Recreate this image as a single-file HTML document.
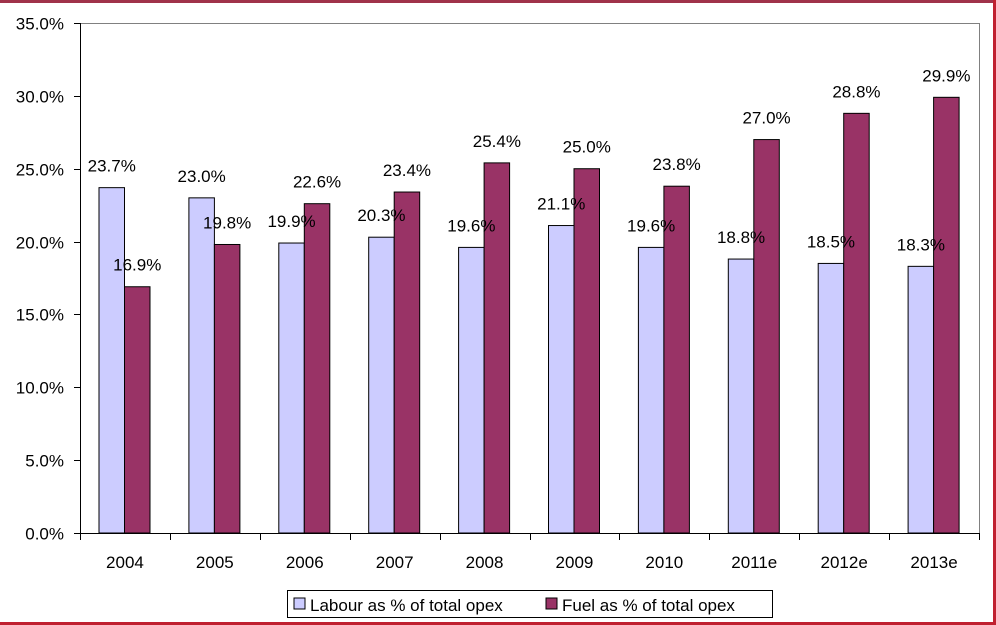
<!DOCTYPE html>
<html><head><meta charset="utf-8"><style>
body{margin:0;background:#fff;}
svg{display:block;font-family:"Liberation Sans",Arial,sans-serif;}
</style></head><body>
<svg id="c" width="996" height="625">
<rect x="0" y="0" width="996" height="3" fill="#a0324a"/>
<rect x="993" y="0" width="3" height="625" fill="#c02030"/>
<rect x="0" y="622" width="996" height="3" fill="#c02030"/>
<g id="g"></g>
<g>
<rect x="287.5" y="590.5" width="485" height="27" fill="#fff" stroke="#000"/>
<rect x="294" y="598" width="11" height="11" fill="#ccccff" stroke="#000"/>
<text x="310" y="611" font-size="17">Labour as % of total opex</text>
<rect x="546" y="598" width="11" height="11" fill="#993366" stroke="#000"/>
<text x="562" y="611" font-size="17">Fuel as % of total opex</text>
</g>
</svg>
<script>
const categories=["2004","2005","2006","2007","2008","2009","2010","2011e","2012e","2013e"];
const labour=[23.7,23.0,19.9,20.3,19.6,21.1,19.6,18.8,18.5,18.3];
const fuel=[16.9,19.8,22.6,23.4,25.4,25.0,23.8,27.0,28.8,29.9];
const ticks=[0,5,10,15,20,25,30,35];
const NS="http://www.w3.org/2000/svg";
const g=document.getElementById('g');
const L=80,R=979,T=23,B=533,ymax=35;
const y=v=>B-(v/ymax)*(B-T);
const cw=(R-L)/categories.length;
const x=i=>L+i*cw;
function el(t,a){const e=document.createElementNS(NS,t);for(const k in a)e.setAttribute(k,a[k]);g.appendChild(e);return e;}
let e=el('line',{x1:L,y1:T+0.5,x2:R,y2:T+0.5,stroke:'#808080'});


e=el('line',{x1:R+0.5,y1:T,x2:R+0.5,y2:B,stroke:'#808080'});


ticks.forEach(t=>{
 const yy=Math.round(y(t))+0.5;
 let l=el('line',{x1:L-6,y1:yy,x2:L,y2:yy,stroke:'#000'});
 
 
 let tx=el('text',{x:L-16,y:yy+6,'font-size':17,'text-anchor':'end'});
 tx.textContent=t.toFixed(1)+'%';
 
 
});
const bw=25.5,off=19;
categories.forEach((c,i)=>{
 const x0=x(i)+off;
 let b=el('rect',{x:x0,y:y(labour[i]),width:bw,height:B-y(labour[i]),fill:'#ccccff',stroke:'#000','stroke-width':1});
 
 
 b=el('rect',{x:x0+bw,y:y(fuel[i]),width:bw,height:B-y(fuel[i]),fill:'#993366',stroke:'#000','stroke-width':1});
 
 
 let t=el('text',{x:x0+bw/2,y:y(labour[i])-16,'font-size':17,'text-anchor':'middle'});
 t.textContent=labour[i].toFixed(1)+'%';
 
 
 t=el('text',{x:x0+bw*1.5,y:y(fuel[i])-16,'font-size':17,'text-anchor':'middle'});
 t.textContent=fuel[i].toFixed(1)+'%';
 
 
 t=el('text',{x:x(i)+cw/2,y:568,'font-size':17,'text-anchor':'middle'});
 t.textContent=c;
 
 
 const tx=Math.round(x(i+1))+0.5;
 let l=el('line',{x1:tx,y1:B,x2:tx,y2:B+7,stroke:'#000'});
 
 
});
let l=el('line',{x1:L+0.5,y1:T,x2:L+0.5,y2:B+7,stroke:'#000'});


l=el('line',{x1:L-6,y1:B+0.5,x2:R,y2:B+0.5,stroke:'#000'});


</script>
</body></html>
